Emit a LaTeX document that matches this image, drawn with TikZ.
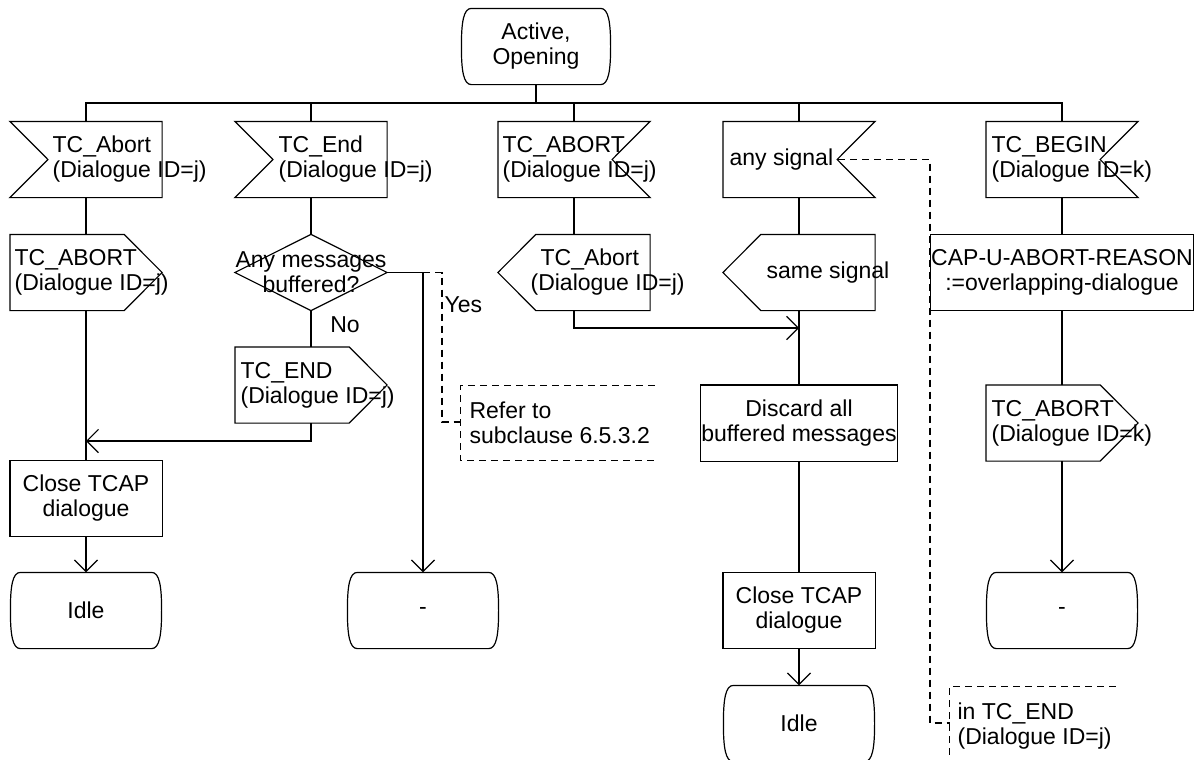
\documentclass[tikz,border=0pt]{standalone}
\usepackage{fontspec}
\setmainfont{Liberation Sans}
\usetikzlibrary{arrows.meta}
\newcommand\sdlinL[1]{\draw (#1.north west) -- (#1.north east) -- (#1.south east) -- (#1.south west) -- ([xshift=19pt]#1.west) -- cycle;}
\newcommand\sdlinR[1]{\draw (#1.north west) -- (#1.north east) -- ([xshift=-19pt]#1.east) -- (#1.south east) -- (#1.south west) -- cycle;}
\newcommand\sdloutR[1]{\draw (#1.north west) -- ([xshift=-19pt]#1.north east) -- (#1.east) -- ([xshift=-19pt]#1.south east) -- (#1.south west) -- cycle;}
\newcommand\sdloutL[1]{\draw ([xshift=19pt]#1.north west) -- (#1.north east) -- (#1.south east) -- ([xshift=19pt]#1.south west) -- (#1.west) -- cycle;}
\newcommand\sdltask[1]{\draw (#1.north west) rectangle (#1.south east);}
\newcommand\sdldec[1]{\draw (#1.north) -- (#1.east) -- (#1.south) -- (#1.west) -- cycle;}
\newcommand\sdlstate[1]{\draw ([xshift=5pt]#1.north west) -- ([xshift=-5pt]#1.north east) .. controls +(4pt,0) and +(0,12pt) .. (#1.east) .. controls +(0,-12pt) and +(4pt,0) .. ([xshift=-5pt]#1.south east) -- ([xshift=5pt]#1.south west) .. controls +(-4pt,0) and +(0,-12pt) .. (#1.west) .. controls +(0,12pt) and +(-4pt,0) .. ([xshift=5pt]#1.north west) -- cycle;}
\begin{document}
\begin{tikzpicture}[x=0.5pt,y=-0.5pt,
  line width=0.6pt,
  every node/.style={font=\fontsize{11.5pt}{12.5pt}\selectfont},
  sym/.style={minimum width=75.5pt,minimum height=37.5pt,inner sep=0pt,align=center},
  stt/.style={minimum width=75pt,minimum height=37.5pt,inner sep=0pt,align=center},
  txt/.style={inner sep=0pt,align=left,anchor=west},
  ctxt/.style={inner sep=0pt,align=center},
  arr/.style={-{Straight Barb[length=5.8pt,width=11.6pt]}},
  cmt/.style={dash pattern=on 3.5pt off 2.5pt}]
\useasboundingbox (0,0) rectangle (1200,760);
% start state
\node[minimum width=74pt,minimum height=37.5pt,inner sep=0pt,align=center] (act) at (536,46.5) {Active,\\Opening};
\sdlstate{act}
\coordinate (bus) at (536,103);
% row 1
\node[sym] (a1) at (86,159.5) {};
\node[sym] (b1) at (311,159.5) {};
\node[sym] (c1) at (574,159.5) {};
\node[sym] (d1) at (799,159.5) {};
\node[sym] (e1) at (1062,159.5) {};
\sdlinL{a1}\sdlinL{b1}\sdlinR{c1}\sdlinR{d1}\sdlinR{e1}
\node[txt] (a1t) at (52,159.5) {TC\_Abort\\(Dialogue ID=j)};
\node[txt] (b1t) at (278,159.5) {TC\_End\\(Dialogue ID=j)};
\node[txt] (c1t) at (502,159.5) {TC\_ABORT\\(Dialogue ID=j)};
\node[txt] (d1t) at (729,160) {any signal};
\node[txt] (e1t) at (991,159.5) {TC\_BEGIN\\(Dialogue ID=k)};
% row 2
\node[sym] (a2) at (86,272.5) {};
\node[sym] (b2) at (311,272.5) {Any messages\\buffered?};
\node[sym] (c2) at (574,272.5) {};
\node[sym] (d2) at (799,272.5) {};
\node[sym] (e2) at (1062,272.5) {CAP-U-ABORT-REASON\\:=overlapping-dialogue};
\sdloutR{a2}\sdldec{b2}\sdloutL{c2}\sdloutL{d2}\sdltask{e2}
\node[txt] (a2t) at (14,272.5) {TC\_ABORT\\(Dialogue ID=j)};
\node[txt] (c2t) at (530,272.5) {\hspace*{5pt}TC\_Abort\\(Dialogue ID=j)};
\node[txt] (d2t) at (766,272.5) {same signal};
% row 3
\node[sym] (b3) at (311,385) {};
\sdloutR{b3}
\node[txt] (b3t) at (240,385) {TC\_END\\(Dialogue ID=j)};
\node[minimum width=96.5pt,minimum height=37pt,inner sep=0pt] (refer) at (557.5,423) {};
\node[txt] (refert) at (469,423) {Refer to\\subclause 6.5.3.2};
\node[sym] (d3) at (799,423) {Discard all\\buffered messages};
\node[sym] (e3) at (1062,423) {};
\sdltask{d3}\sdloutR{e3}
\node[txt] (e3t) at (991,423) {TC\_ABORT\\(Dialogue ID=k)};
% row 4
\node[sym] (a4) at (86,498.5) {Close TCAP\\dialogue};
\sdltask{a4}
% row 5
\node[stt] (a5) at (86,610.5) {Idle};
\node[stt] (b5) at (423,610.5) {-};
\node[sym] (d4) at (799,610.5) {Close TCAP\\dialogue};
\node[stt] (e5) at (1062,610.5) {-};
\sdlstate{a5}\sdlstate{b5}\sdltask{d4}\sdlstate{e5}
% row 6
\node[stt] (d5) at (799,723.5) {Idle};
\sdlstate{d5}
\node[minimum width=82.5pt,minimum height=46pt,inner sep=0pt] (inend) at (1032.5,733) {};
\node[txt] (inendt) at (957,726) {in TC\_END\\(Dialogue ID=j)};
% labels
\node[txt] (yes) at (444,305) {Yes};
\node[ctxt] (no) at (345,325) {No};
% comment brackets
\draw[cmt] (refer.north east) -- (refer.north west) -- (refer.south west) -- (refer.south east);
\draw[cmt] (inend.north east) -- (inend.north west) -- (inend.south west);
% coordinates
\coordinate (m1) at (86,441);
\coordinate (m2) at (799,328);
\coordinate (rk) at (442,422);
\coordinate (rc) at (461,422);
\coordinate (ik) at (930,723);
\coordinate (ic) at (950,723);
% connectors
\draw (act.south) -- (bus);
\draw (a1.north) |- (bus) -| (e1.north);
\draw (b1.north) -- (b1.north |- bus);
\draw (c1.north) -- (c1.north |- bus);
\draw (d1.north) -- (d1.north |- bus);
\draw (a1.south) -- (a2.north);
\draw (a2.south) -- (a4.north);
\draw[arr] (a4.south) -- (a5.north);
\draw (b1.south) -- (b2.north);
\draw (b2.south) -- (b3.north);
\draw[arr] (b3.south) |- (m1);
\draw[arr] (b2.east) -| (b5.north);
\draw[cmt] (b2.east) -| (rk) -- (rc);
\draw (c1.south) -- (c2.north);
\draw[arr] (c2.south) |- (m2);
\draw (d1.south) -- (d2.north);
\draw (d2.south) -- (d3.north);
\draw (d3.south) -- (d4.north);
\draw[arr] (d4.south) -- (d5.north);
\draw[cmt] ([xshift=-18.5pt]d1.east) -| (ik) -- (ic);
\draw (e1.south) -- (e2.north);
\draw (e2.south) -- (e3.north);
\draw[arr] (e3.south) -- (e5.north);
\end{tikzpicture}
\end{document}
